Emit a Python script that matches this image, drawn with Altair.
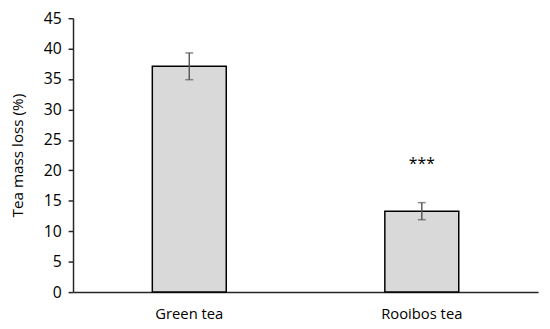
import altair as alt
import pandas as pd

categories = ["Green tea", "Rooibos tea"]
means = [37.1, 13.3]
errors = [2.2, 1.4]
signif = ["", "***"]
signif_pos = [0, 21.0]

df = pd.DataFrame({
    "tea": categories,
    "mean": means,
    "lo": [m - e for m, e in zip(means, errors)],
    "hi": [m + e for m, e in zip(means, errors)],
    "sig": signif,
    "sigpos": signif_pos,
})

FONT = "Open Sans"

xaxis = alt.Axis(labelAngle=0, ticks=False, domainColor="#262626", domainWidth=1.5,
                 labelFontSize=15, labelPadding=15, labelColor="#000", labelFont=FONT)
yaxis = alt.Axis(values=list(range(0, 46, 5)), grid=False, tickSize=5, labelOverlap=False,
                 tickColor="#262626", domainColor="#262626", domainWidth=1.5, tickWidth=1.5,
                 labelFontSize=16, labelPadding=7, labelColor="#000", labelFont=FONT,
                 titleFontSize=15.5, titleFontWeight="normal", titleColor="#000",
                 titleFont=FONT, titlePadding=18)
yscale = alt.Scale(domain=[0, 45], nice=False)
xscale = alt.Scale(paddingInner=0.682, paddingOuter=0.341)


def X():
    return alt.X("tea:N", sort=categories, title=None, scale=xscale, axis=xaxis)


def Y(field):
    return alt.Y(field, title="Tea mass loss (%)", scale=yscale, axis=yaxis)


bars = alt.Chart(df).mark_bar(fill="#d9d9d9", stroke="#000", strokeWidth=1.5).encode(
    x=X(), y=Y("mean:Q"))
rules = alt.Chart(df).mark_rule(color="#595959", strokeWidth=1.5).encode(
    x=X(), y=Y("lo:Q"), y2="hi:Q")
caps_lo = alt.Chart(df).mark_tick(color="#595959", size=8, thickness=1.5).encode(
    x=X(), y=Y("lo:Q"))
caps_hi = alt.Chart(df).mark_tick(color="#595959", size=8, thickness=1.5).encode(
    x=X(), y=Y("hi:Q"))
stars = alt.Chart(df).mark_text(fontSize=16, font=FONT, color="#000", baseline="middle").encode(
    x=X(), y=Y("sigpos:Q"), text="sig:N")

chart = alt.layer(bars, rules, caps_lo, caps_hi, stars).properties(
    width=472, height=278,
    autosize=alt.AutoSizeParams(type="none"),
    padding={"left": 66, "top": 8, "right": 4, "bottom": 30},
).configure_view(stroke=None)

chart.save("out.html", embed_options={"renderer": "svg", "actions": False})
